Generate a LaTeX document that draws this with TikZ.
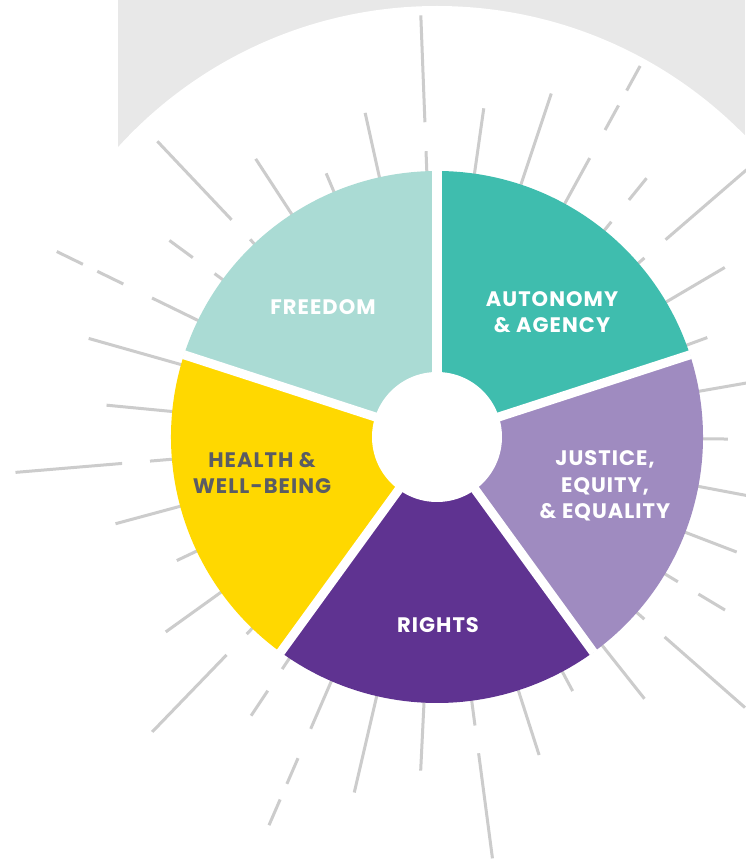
\documentclass[tikz,border=0pt]{standalone}
\usepackage{fontspec}
\setmainfont{Poppins}[LetterSpace=5]
\usetikzlibrary{positioning}

\definecolor{bggray}{HTML}{E8E8E8}
\definecolor{raygray}{HTML}{CCCCCC}
\definecolor{freedomc}{HTML}{AADBD4}
\definecolor{autonomyc}{HTML}{3FBDAE}
\definecolor{justicec}{HTML}{9F8BC0}
\definecolor{rightsc}{HTML}{5F3391}
\definecolor{healthc}{HTML}{FFD800}
\definecolor{darktext}{HTML}{5A5C64}

\begin{document}
\begin{tikzpicture}[x=1pt,y=1pt,
    sunray/.style={draw=raygray,line width=3pt},
    seglabel/.style={font=\bfseries\fontsize{21}{26.5}\selectfont,text=white,align=center}]
  \useasboundingbox (-437,-422) rectangle (308,437);
  % backdrop
  \fill[bggray] (-319,0) rectangle (308,437);
  \fill[white] (0,0) circle (431);
  \coordinate (c) at (0,0);
  % rays
  \foreach \a/\ri/\ro in {92.2/315/422, 92.2/265/286, 81.9/265/332, 71.6/265/362,
      61.3/395/423, 61.3/350/378, 61.3/265/318, 51/305/333, 51/265/277,
      40.8/302/409, 40.8/265/274, 30.5/265/334, 20.2/265/288, 9.9/265/362,
      -0.4/265/291, -10.7/265/334, -21/265/321, -31/305/336, -31/265/281,
      -41.3/303/410, -41.3/265/276, -51.6/265/334, -61.9/265/288, -72.2/265/334,
      -82.5/319/425, -82.5/265/291, -92.8/265/334, -103.1/265/365,
      -113.4/395/423, -113.4/350/378, -113.4/265/318, -123.7/305/335, -123.7/265/279,
      -134/303/410, -134/265/274, -144.3/265/334, -154.6/265/288, -164.9/265/333,
      -175.2/316/423, -175.2/265/288, 174.5/265/332, 164.2/265/362,
      154/394/423, 154/349/378, 154/265/317, 143.7/303/332, 143.7/265/276,
      133.4/299/407, 133.4/265/272, 123.1/265/332, 112.8/265/286, 102.5/265/332}
    \draw[sunray] (\a:\ri) -- (\a:\ro);
  % wheel
  \fill[freedomc] (c) -- (90:266) arc (90:162:266) -- cycle;
  \fill[autonomyc] (c) -- (18:266) arc (18:90:266) -- cycle;
  \fill[justicec] (c) -- (-54:266) arc (-54:18:266) -- cycle;
  \fill[rightsc] (c) -- (-126:266) arc (-126:-54:266) -- cycle;
  \fill[healthc] (c) -- (162:266) arc (162:234:266) -- cycle;
  \foreach \a in {18,90,162,234,306}
    \draw[white,line width=9pt] (c) -- (\a:266.5);
  \fill[white] (c) circle (65);
  % labels
  \node[seglabel] (freedom) at (-114,130) {FREEDOM};
  \node[seglabel] (autonomy) at (115,125) {AUTONOMY\\\& AGENCY};
  \node[seglabel] (justice) at (168,-49) {JUSTICE,\\EQUITY,\\\& EQUALITY};
  \node[seglabel] (rights) at (1,-188) {RIGHTS};
  \node[seglabel,text=darktext] (health) at (-175,-36) {HEALTH \&\\WELL-BEING};
\end{tikzpicture}
\end{document}
